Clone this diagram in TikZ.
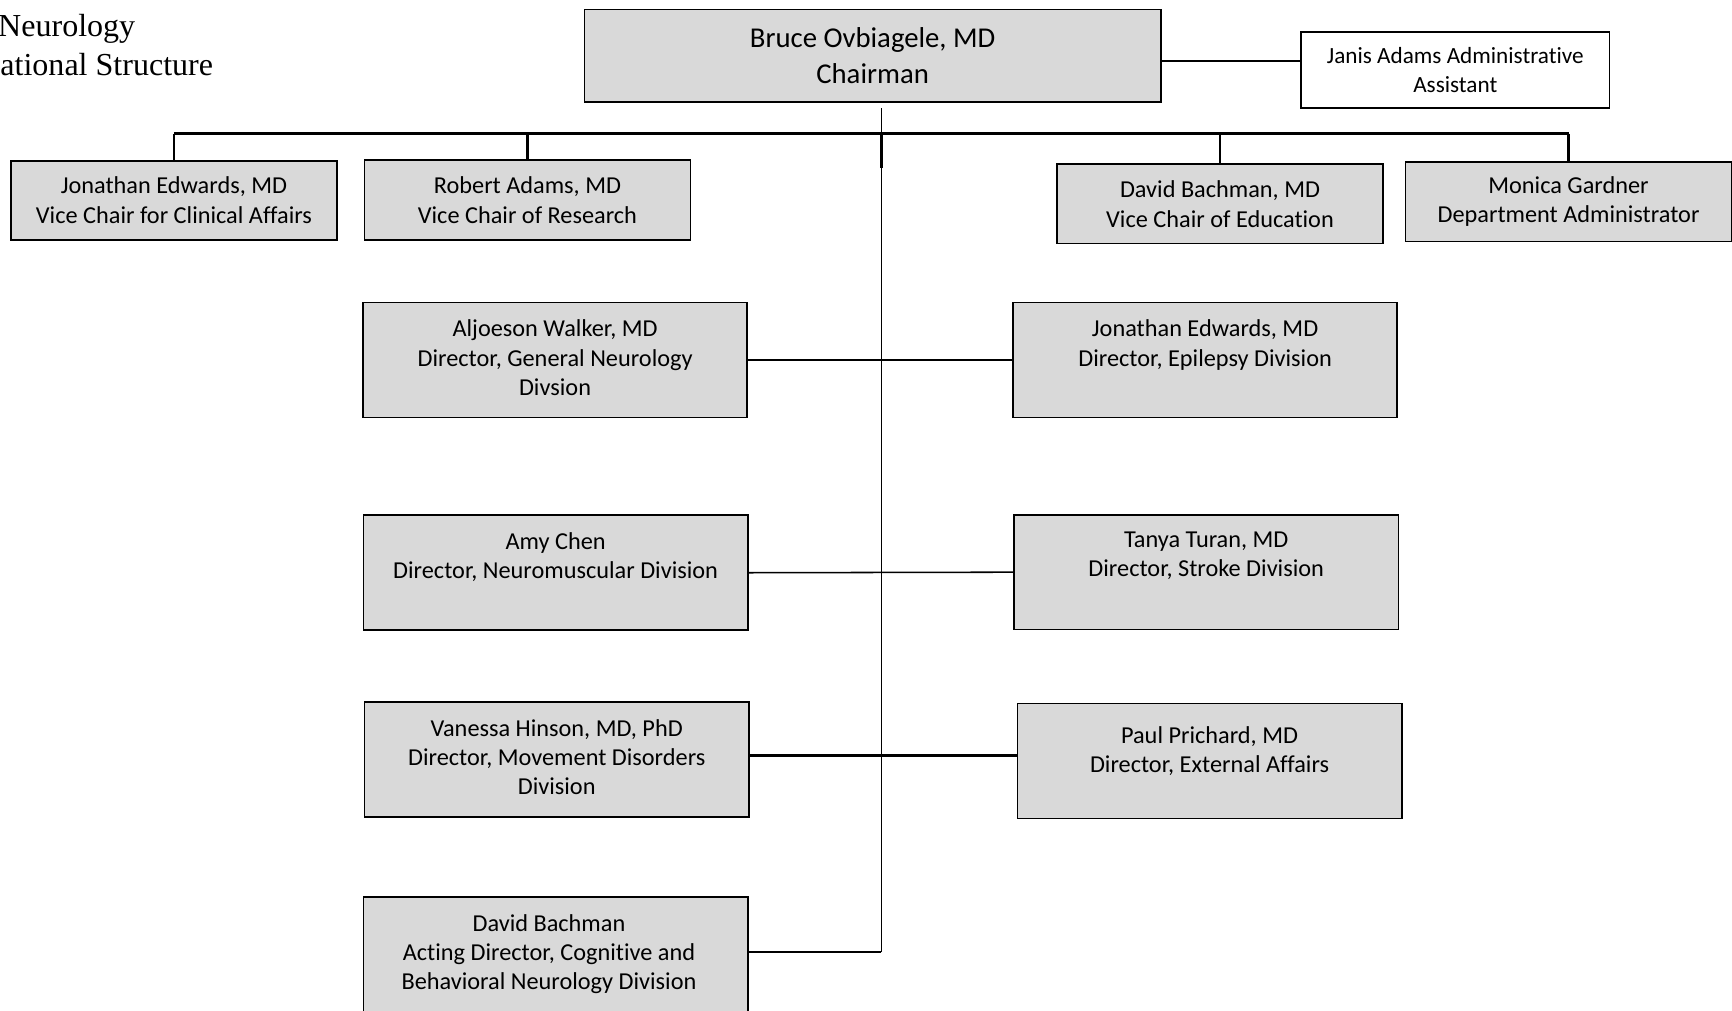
\documentclass[tikz,border=0pt]{standalone}
\usepackage{fontspec}
\setmainfont{Liberation Serif}
\newfontfamily\boxfont[Ligatures=NoCommon]{Carlito}
\usepackage{xcolor}
\definecolor{BoxFill}{RGB}{217,217,217}
\usepackage{tikz}
\tikzstyle{Box}=[rectangle,draw=black,fill=BoxFill,line width=0.75pt,
align=center,inner sep=0pt,font=\boxfont\fontsize{11}{13.5}\selectfont]
\tikzstyle{Chair}=[Box,minimum width=261pt,minimum height=42pt,
font=\boxfont\fontsize{13}{16}\selectfont]
\tikzstyle{Assist}=[Box,fill=white,minimum width=139.5pt,minimum height=34.5pt,
font=\boxfont\fontsize{10.5}{13}\selectfont]
\tikzstyle{Vice}=[Box,minimum width=147.5pt,minimum height=36pt]
\tikzstyle{Division}=[Box,minimum width=174pt,minimum height=52pt]
\tikzstyle{DivText}=[anchor=north,align=center,inner sep=0pt,yshift=-8pt,
font=\boxfont\fontsize{11}{13.25}\selectfont]
\tikzstyle{Edge}=[draw=black,line width=0.7pt]
\tikzstyle{EdgeThick}=[draw=black,line width=1.1pt]
\tikzstyle{Bus}=[draw=black,line width=1.3pt]
\tikzstyle{Title}=[anchor=base west,inner sep=0pt,font=\fontsize{14.5}{17}\selectfont]

\begin{document}
\begin{tikzpicture}[x=0.5pt,y=-0.5pt]
        \useasboundingbox(0,0)rectangle(1568,915);
        \node[Title](t1)at(-2,33){Neurology};
        \node[Title](t2)at(0,68){ational Structure};
        \node[Chair](chair)at(790,50.5){Bruce Ovbiagele, MD\\Chairman};
        \node[Assist](assist)at(1317.5,63.5){Janis Adams Administrative\\Assistant};
        \node[Vice](je)at(157.5,181.5){Jonathan Edwards, MD\\Vice Chair for Clinical Affairs};
        \node[Vice](ra)at(477.5,181){Robert Adams, MD\\Vice Chair of Research};
        \node[Vice](db)at(1104.5,184.5){David Bachman, MD\\Vice Chair of Education};
        \node[Vice](mg)at(1420,182.5){Monica Gardner\\Department Administrator};
        \node[Division,label={[DivText]north:{Aljoeson Walker, MD\\Director, General Neurology\\Divsion}}](aw)at(502.5,326){};
        \node[Division,label={[DivText]north:{Jonathan Edwards, MD\\Director, Epilepsy Division}}](ep)at(1091,326){};
        \node[Division,label={[DivText]north:{Amy Chen\\Director, Neuromuscular Division}}](ac)at(503,518.5){};
        \node[Division,label={[DivText]north:{Tanya Turan, MD\\Director, Stroke Division}}](tt)at(1092,518){};
        \node[Division,label={[DivText]north:{Vanessa Hinson, MD, PhD\\Director, Movement Disorders\\Division}}](vh)at(504,687.5){};
        \node[Division,label={[DivText,yshift=-2.5pt]north:{Paul Prichard, MD\\Director, External Affairs}}](pp)at(1095,689){};
        \node[Division,label={[DivText,xshift=-3pt]north:{David Bachman\\Acting Director, Cognitive and\\Behavioral Neurology Division}}](cb)at(503,864){};
        \coordinate(top)at(798,98);
        \coordinate(hub)at(798,121);
        \coordinate(stem)at(798,152);
        \coordinate(row3)at(798,684);
        \coordinate(foot)at(798,862);
        \coordinate(aside)at(0,55);
        \draw[EdgeThick](chair.east|-aside)--(assist.west|-aside);
        \draw[Edge](top)--(hub);
        \draw[Bus](je.north|-hub)--(mg.north|-hub);
        \draw[EdgeThick](je.north|-hub)--(je.north);
        \draw[EdgeThick](ra.north|-hub)--(ra.north);
        \draw[EdgeThick](db.north|-hub)--(db.north);
        \draw[EdgeThick](mg.north|-hub)--(mg.north);
        \draw[EdgeThick](hub)--(stem);
        \draw[Edge](stem)--(foot);
        \draw[EdgeThick](aw.east)--(aw.east-|hub);
        \draw[Edge](ep.west)--(ep.west-|hub);
        \draw[Edge](ac.east)--(tt.west);
        \draw[EdgeThick](vh.east|-row3)--(row3);
        \draw[EdgeThick](pp.west|-row3)--(row3);
        \draw[EdgeThick](foot)--(cb.east|-foot);
    \end{tikzpicture}
\end{document}
